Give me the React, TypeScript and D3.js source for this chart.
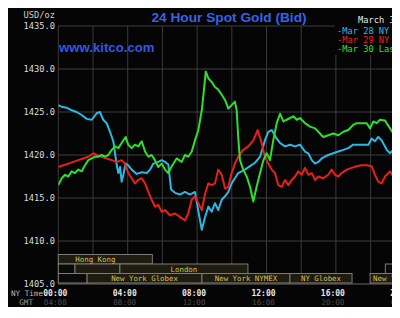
import React from "react";
import * as d3 from "d3";

// ---- data ----
const mar28Hours = [0, 0.2, 0.48, 0.77, 1.06, 1.35, 1.64, 1.93, 2.21, 2.4, 2.59, 2.79, 2.98, 3.17, 3.27, 3.37, 3.46, 3.56, 3.65, 3.75, 3.88, 4.03, 4.23, 4.52, 4.81, 5.1, 5.29, 5.48, 5.76, 5.96, 6.15, 6.34, 6.5, 6.73, 7.01, 7.3, 7.59, 7.88, 8.07, 8.27, 8.46, 8.65, 8.84, 9.03, 9.22, 9.42, 9.61, 9.8, 9.99, 10.18, 10.37, 10.76, 11.05, 11.34, 11.63, 11.91, 12.1, 12.3, 12.59, 12.78, 13.07, 13.36, 13.65, 13.93, 14.22, 14.41, 14.61, 14.8, 14.99, 15.18, 15.37, 15.56, 15.85, 16.14, 16.43, 16.71, 17.0, 17.58, 17.87, 18.06, 18.25, 18.44, 18.64, 18.93, 19.12, 19.41, 19.69];
const mar28Prices = [1425.8, 1425.6, 1425.5, 1425.2, 1425.0, 1424.65, 1424.2, 1424.1, 1424.85, 1425.0, 1424.1, 1423.7, 1422.7, 1421.6, 1420.2, 1418.8, 1417.9, 1418.6, 1416.9, 1417.7, 1419.0, 1418.8, 1418.3, 1417.8, 1418.0, 1417.9, 1418.3, 1419.0, 1419.2, 1419.4, 1419.2, 1418.9, 1416.0, 1415.6, 1415.4, 1415.7, 1415.4, 1415.7, 1413.5, 1411.3, 1412.8, 1414.0, 1413.4, 1414.4, 1413.6, 1414.8, 1415.2, 1415.7, 1416.7, 1417.3, 1417.9, 1418.3, 1418.7, 1419.1, 1419.8, 1421.7, 1422.7, 1422.9, 1421.9, 1421.4, 1421.0, 1421.2, 1421.0, 1421.2, 1420.4, 1420.2, 1419.4, 1419.0, 1419.2, 1419.6, 1419.8, 1420.0, 1420.2, 1420.4, 1420.6, 1420.8, 1421.2, 1421.2, 1421.2, 1421.9, 1421.6, 1422.1, 1421.7, 1420.6, 1420.2, 1420.8, 1421.2];

const mar29Hours = [0, 0.29, 0.58, 0.86, 1.15, 1.44, 1.73, 2.02, 2.21, 2.5, 2.79, 3.08, 3.37, 3.65, 3.84, 4.03, 4.23, 4.42, 4.61, 4.81, 5.0, 5.19, 5.38, 5.57, 5.76, 5.96, 6.15, 6.44, 6.73, 7.01, 7.3, 7.49, 7.69, 7.88, 8.07, 8.27, 8.46, 8.65, 8.84, 9.03, 9.22, 9.42, 9.61, 9.8, 9.99, 10.18, 10.37, 10.66, 10.95, 11.24, 11.49, 11.72, 11.91, 12.1, 12.3, 12.49, 12.68, 12.88, 13.07, 13.26, 13.45, 13.65, 13.83, 14.03, 14.22, 14.41, 14.61, 14.8, 14.99, 15.27, 15.56, 15.76, 15.95, 16.14, 16.33, 16.62, 16.91, 17.2, 17.49, 17.78, 18.06, 18.25, 18.44, 18.64, 18.83, 19.12, 19.31, 19.5, 19.69];
const mar29Prices = [1418.6, 1418.8, 1419.0, 1419.2, 1419.4, 1419.6, 1419.8, 1420.2, 1420.0, 1419.8, 1419.6, 1419.4, 1419.2, 1419.4, 1419.0, 1417.9, 1417.3, 1416.7, 1417.1, 1417.3, 1416.7, 1415.7, 1414.8, 1414.0, 1414.2, 1413.4, 1413.6, 1413.0, 1413.2, 1412.8, 1412.4, 1413.2, 1414.8, 1415.2, 1414.4, 1413.6, 1415.5, 1416.7, 1416.5, 1416.7, 1418.3, 1417.7, 1416.1, 1416.3, 1417.9, 1419.0, 1419.8, 1420.6, 1421.0, 1421.7, 1422.9, 1421.4, 1419.8, 1419.0, 1418.3, 1417.9, 1416.5, 1416.3, 1417.1, 1416.5, 1417.1, 1417.5, 1418.1, 1417.7, 1418.5, 1417.7, 1417.9, 1417.1, 1417.5, 1417.3, 1417.7, 1418.3, 1417.7, 1417.5, 1417.9, 1418.3, 1418.5, 1418.7, 1418.8, 1418.8, 1418.7, 1417.7, 1416.9, 1416.7, 1417.5, 1418.1, 1417.5, 1417.7, 1417.3];

const mar30Hours = [0, 0.1, 0.2, 0.39, 0.58, 0.77, 0.96, 1.15, 1.35, 1.54, 1.73, 1.93, 2.12, 2.31, 2.5, 2.69, 2.88, 3.08, 3.27, 3.46, 3.65, 3.88, 4.03, 4.23, 4.42, 4.61, 4.81, 5.0, 5.19, 5.38, 5.57, 5.76, 5.96, 6.15, 6.34, 6.54, 6.82, 7.11, 7.3, 7.49, 7.69, 7.88, 8.07, 8.27, 8.41, 8.5, 8.65, 8.84, 9.03, 9.22, 9.42, 9.61, 9.8, 9.99, 10.18, 10.28, 10.37, 10.47, 10.66, 10.86, 11.05, 11.24, 11.43, 11.63, 11.82, 12.01, 12.2, 12.39, 12.59, 12.78, 12.97, 13.16, 13.36, 13.55, 13.74, 13.93, 14.22, 14.51, 14.8, 15.08, 15.27, 15.56, 15.85, 16.14, 16.43, 16.71, 17.0, 17.2, 17.78, 17.97, 18.16, 18.35, 18.54, 18.83, 19.12, 19.31, 19.5, 19.69];
const mar30Prices = [1416.5, 1416.9, 1417.3, 1417.7, 1417.5, 1418.1, 1417.9, 1418.3, 1418.1, 1418.8, 1419.4, 1419.6, 1419.8, 1419.8, 1420.0, 1419.8, 1420.0, 1420.6, 1421.0, 1420.8, 1421.4, 1422.1, 1421.2, 1420.8, 1421.2, 1421.0, 1421.6, 1420.4, 1419.8, 1420.0, 1419.4, 1418.6, 1419.0, 1418.3, 1417.9, 1418.7, 1419.6, 1419.2, 1420.0, 1419.8, 1420.4, 1421.7, 1422.9, 1425.2, 1427.9, 1429.7, 1428.9, 1428.5, 1427.9, 1427.6, 1427.0, 1426.4, 1425.4, 1425.8, 1426.2, 1425.2, 1422.1, 1419.4, 1418.3, 1417.5, 1416.3, 1414.6, 1416.3, 1417.9, 1419.4, 1420.2, 1419.4, 1421.7, 1423.7, 1424.8, 1423.9, 1424.1, 1424.3, 1424.5, 1424.1, 1424.3, 1423.7, 1423.3, 1423.1, 1422.5, 1422.1, 1422.3, 1422.5, 1422.3, 1422.7, 1422.9, 1423.5, 1423.7, 1423.7, 1423.1, 1423.9, 1423.7, 1424.1, 1424.0, 1423.1, 1422.5, 1422.3, 1422.1];

const seriesNames = ["-Mar 28 NY close", "-Mar 29 NY close", "-Mar 30 Last Update"];
const seriesColors = ["#2cb8e4", "#e8201c", "#2ee02a"];

const priceTicks = [1405, 1410, 1415, 1420, 1425, 1430, 1435];
const hourTicks = [0, 4, 8, 12, 16, 20];
const nyTimeLabels = ["00:00", "04:00", "08:00", "12:00", "16:00", "20:00"];
const gmtTimeLabels = ["04:00", "08:00", "12:00", "16:00", "20:00", "00:00"];
const gridHours = [0, 2, 4, 6, 8, 10, 12, 14, 16, 18, 20, 22, 24];

// market sessions: label, row, start hour, end hour
const sessionLabels = ["Hong Kong", "", "", "London", "", "", "New York Globex", "New York NYMEX", "NY Globex", "New York Globex"];
const sessionRows = [0, 1, 1, 1, 1, 2, 2, 2, 2, 2];
const sessionStarts = [0, 0, 0.96, 3.55, 18.85, 0, 1.66, 8.28, 13.35, 17.97];
const sessionEnds = [5.42, 0.96, 3.55, 10.93, 24, 1.66, 8.28, 13.35, 16.93, 24];

const MONO = "'DejaVu Sans Mono', 'Liberation Mono', monospace";
const SANS = "'Liberation Sans', Arial, sans-serif";

export default function App() {
  const W = 392;
  const H = 299;
  const left = 58.3;
  const x = d3.scaleLinear().domain([0, 24]).range([left, left + 24 * 17.35]);
  const y = d3.scaleLinear().domain([1405, 1435]).range([284, 26]);

  const series = [
    { h: mar28Hours, v: mar28Prices },
    { h: mar29Hours, v: mar29Prices },
    { h: mar30Hours, v: mar30Prices },
  ];
  const line = d3
    .line<[number, number]>()
    .x((d) => x(d[0]))
    .y((d) => y(d[1]));

  const rowTop = [254.5, 264, 273.5];
  const rowH = 9.5;

  return (
    <svg width={W} height={H} style={{ display: "block" }}>
      <defs>
        <clipPath id="plotclip">
          <rect x={left} y={20} width={400 - left} height={270} />
        </clipPath>
      </defs>
      <g transform="translate(-8,-8)">
        <rect x={8} y={8} width={W} height={H} fill="#050505" />

        {/* grid */}
        {gridHours.map((h) => (
          <line key={"vg" + h} x1={x(h)} x2={x(h)} y1={y(1435)} y2={y(1405)} stroke="#3a3a3a" strokeWidth={1} />
        ))}
        {priceTicks.map((p) => (
          <line key={"hg" + p} x1={left} x2={400} y1={y(p)} y2={y(p)} stroke={p === 1405 ? "#6a6a6a" : "#3e3e3e"} strokeWidth={1} />
        ))}

        {/* y labels */}
        <text x={55} y={18} textAnchor="end" fontFamily={MONO} fontSize={8.7} fill="#cfcfcf">USD/oz</text>
        {priceTicks.map((p) => (
          <text key={"yl" + p} x={55} y={y(p) + 3} textAnchor="end" fontFamily={MONO} fontSize={8.7} fill="#dcdcdc">
            {p.toFixed(1)}
          </text>
        ))}

        {/* session bars */}
        {sessionLabels.map((lab, i) => {
          const x0 = x(sessionStarts[i]);
          const x1 = x(sessionEnds[i]);
          const ty = rowTop[sessionRows[i]];
          const filled = lab !== "" || (sessionRows[i] === 1 && i === 2);
          return (
            <g key={"s" + i}>
              <rect x={x0} y={ty} width={x1 - x0} height={rowH} fill={filled ? "#1e1c10" : "#0a0a0a"} stroke="#7c7c74" strokeWidth={1} />
            </g>
          );
        })}
        {sessionLabels.map((lab, i) => {
          if (!lab) return null;
          const x0 = x(sessionStarts[i]);
          const x1 = x(sessionEnds[i]);
          const ty = rowTop[sessionRows[i]];
          const cx = i === 0 ? x0 + 17 : i === 9 ? x0 + 3 : (x0 + x1) / 2;
          return (
            <text key={"st" + i} x={cx} y={ty + 7.6} textAnchor={i === 0 || i === 9 ? "start" : "middle"} fontFamily={MONO} fontSize={7.4} fill="#d8c050">
              {lab}
            </text>
          );
        })}

        {/* price lines */}
        <g clipPath="url(#plotclip)">
          {series.map((s, i) => (
            <path
              key={"ln" + i}
              d={line(s.h.map((h, j) => [h, s.v[j]] as [number, number])) || ""}
              fill="none"
              stroke={seriesColors[i]}
              strokeWidth={2}
              strokeLinejoin="round"
            />
          ))}
        </g>

        {/* x labels */}
        <text x={43} y={296} textAnchor="end" fontFamily={MONO} fontSize={7.6} fill="#b8b8b8">NY Time</text>
        <text x={33} y={305} textAnchor="end" fontFamily={MONO} fontSize={7.6} fill="#9a9a9a">GMT</text>
        {hourTicks.map((h, i) => (
          <text key={"nx" + h} x={x(h) - 3} y={296} textAnchor="middle" fontFamily={MONO} fontSize={8} fontWeight="bold" fill="#e6e6e6">
            {nyTimeLabels[i]}
          </text>
        ))}
        {hourTicks.map((h, i) => (
          <text key={"gx" + h} x={x(h) - 3} y={305} textAnchor="middle" fontFamily={MONO} fontSize={7.6} fill="#4c4c4c">
            {gmtTimeLabels[i]}
          </text>
        ))}

        {/* title and site */}
        <text x={229} y={22} textAnchor="middle" fontFamily={SANS} fontWeight="bold" fontSize={13.7} fill="#3562e8">
          24 Hour Spot Gold (Bid)
        </text>
        <text x={59} y={52} fontFamily={SANS} fontWeight="bold" fontSize={13.2} fill="#3257e6">
          www.kitco.com
        </text>

        {/* date and legend */}
        <text x={358} y={23} fontFamily={MONO} fontSize={8.7} fill="#e8e8e8">March 30</text>
        <rect x={335} y={25} width={70} height={30} fill="#050505" />
        {seriesNames.map((n, i) => (
          <text key={"lg" + i} x={337} y={34 + i * 9} fontFamily={MONO} fontSize={8.7} fill={seriesColors[i]}>
            {n}
          </text>
        ))}
      </g>
    </svg>
  );
}
